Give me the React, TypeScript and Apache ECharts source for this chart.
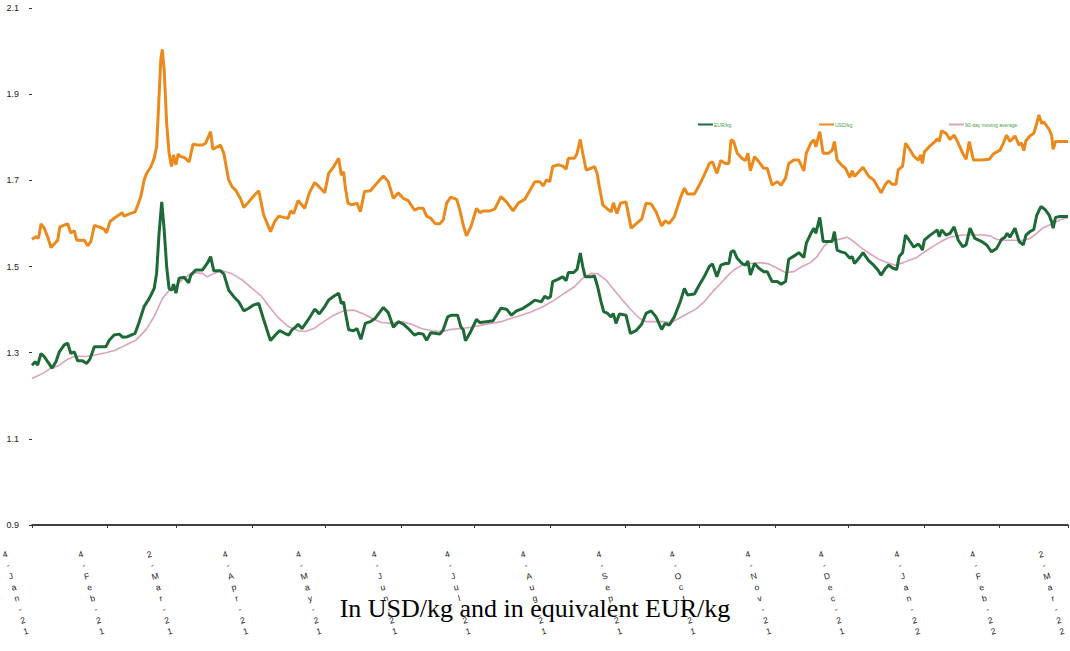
import { useEffect, useRef } from "react";
import * as echarts from "echarts";

// x values are days counted from 4-Jan-2021
const tickDays = [0, 31, 59, 90, 120, 151, 181, 212, 243, 273, 304, 334, 365, 396, 424];
const tickLabels = [
  "4-Jan-21", "4-Feb-21", "2-Mar-21", "4-Apr-21", "4-May-21", "4-Jun-21", "4-Jul-21",
  "4-Aug-21", "4-Sep-21", "4-Oct-21", "4-Nov-21", "4-Dec-21", "4-Jan-22", "4-Feb-22", "2-Mar-22",
];
const yTicks = [0.9, 1.1, 1.3, 1.5, 1.7, 1.9, 2.1];
const seriesNames = ["EUR/kg", "USD/kg", "90-day moving average"];
const chartTitle = "In USD/kg and in equivalent EUR/kg";

const usdKg: [number, number][] = [
  [0,1.563],[1.6,1.569],[2.7,1.566],[3.7,1.599],[5,1.589],[6.4,1.569],[7.8,1.544],[9.1,1.552],[10.5,1.561],[11.4,1.592],
  [13.2,1.596],[14.6,1.599],[15.9,1.578],[17.3,1.583],[18.3,1.561],[20,1.561],[21.4,1.561],[22.8,1.548],[24.1,1.558],[25.5,1.595],
  [27.5,1.592],[29.6,1.586],[30.5,1.578],[31.9,1.604],[33.6,1.612],[35.7,1.62],[36.8,1.625],[37.7,1.617],[39.8,1.622],[42.2,1.627],
  [43.6,1.647],[44.6,1.664],[45.9,1.701],[46.9,1.716],[48.7,1.732],[50,1.751],[51,1.778],[51.8,1.871],[52.7,1.979],[53.3,2.004],
  [54.1,1.956],[55.1,1.833],[56.1,1.763],[57.1,1.732],[57.9,1.759],[58.9,1.736],[59.8,1.761],[60.9,1.755],[62.3,1.753],[64.3,1.743],
  [65.9,1.784],[67.7,1.782],[69.8,1.782],[71,1.786],[73.1,1.813],[74,1.772],[77.1,1.782],[78.5,1.763],[80.5,1.701],[81.9,1.685],
  [83.5,1.676],[85.3,1.658],[86.7,1.637],[88.7,1.65],[90.8,1.664],[92.8,1.676],[94.8,1.62],[97.6,1.581],[99.3,1.604],[101,1.617],
  [103,1.614],[104.8,1.612],[105.8,1.629],[107.1,1.623],[108.9,1.653],[111.6,1.635],[113.5,1.671],[115.7,1.695],[118,1.682],[119.8,1.671],
  [121.4,1.716],[123.5,1.732],[125.5,1.751],[126.6,1.712],[127.5,1.72],[128.2,1.685],[129.3,1.647],[130.9,1.643],[133,1.647],[134.4,1.627],
  [136.1,1.674],[138.5,1.676],[140.5,1.689],[143.8,1.71],[145.8,1.697],[147.9,1.658],[149.9,1.671],[152,1.658],[154,1.653],[156.5,1.631],
  [158.1,1.635],[160.1,1.635],[161.5,1.617],[163.2,1.612],[164.9,1.6],[166.9,1.599],[168.3,1.608],[169.7,1.647],[171.4,1.661],[173.8,1.656],
  [175.1,1.631],[176.5,1.596],[177.8,1.571],[179.6,1.592],[181.9,1.635],[183.3,1.625],[184.7,1.629],[187.4,1.629],[189.4,1.633],[191.9,1.662],
  [194.2,1.65],[196.9,1.629],[199,1.647],[201.7,1.656],[203.7,1.676],[205.8,1.697],[207.8,1.697],[209.2,1.687],[210.5,1.701],[211.9,1.697],
  [213.1,1.732],[215.2,1.736],[217.2,1.733],[218.6,1.726],[219.5,1.751],[222,1.751],[223.1,1.763],[224.4,1.795],[225.4,1.763],[226.8,1.724],
  [228.8,1.728],[230.2,1.732],[231.3,1.716],[232.2,1.685],[233.6,1.643],[235.6,1.633],[237,1.627],[237.9,1.648],[239.4,1.623],[240.8,1.647],
  [243.1,1.65],[245.2,1.589],[247.2,1.599],[249.5,1.61],[251.3,1.647],[253.4,1.645],[255.4,1.627],[257.7,1.594],[259.1,1.606],[260.8,1.6],
  [262.9,1.616],[265.3,1.658],[267,1.682],[268.3,1.668],[271.1,1.668],[273.1,1.689],[275.1,1.712],[277.2,1.739],[278.5,1.743],[280.3,1.716],
  [281.9,1.746],[283.8,1.739],[285.2,1.739],[286.1,1.794],[287.2,1.79],[288.6,1.763],[290.6,1.751],[292,1.746],[293,1.763],[294,1.722],
  [295.7,1.755],[297.5,1.743],[299.5,1.728],[300.9,1.728],[302.9,1.689],[305,1.697],[306.6,1.689],[308.4,1.705],[309.7,1.739],[311.8,1.747],
  [313.8,1.747],[315.9,1.722],[316.9,1.763],[318.8,1.787],[320,1.794],[320.8,1.778],[322.4,1.813],[323.8,1.763],[326.1,1.763],[327.5,1.77],
  [328.4,1.79],[329.5,1.747],[331.2,1.736],[332.9,1.728],[334.7,1.707],[335.7,1.722],[336.6,1.709],[338.4,1.72],[340.1,1.73],[342.5,1.709],
  [344.5,1.701],[345.9,1.687],[347.5,1.671],[349.3,1.691],[350.6,1.699],[352,1.691],[353.6,1.691],[354.5,1.724],[356.3,1.733],[357.5,1.786],
  [359,1.774],[360.9,1.756],[362.7,1.747],[363.7,1.759],[364.4,1.739],[365.2,1.766],[367.2,1.778],[369.6,1.79],[370.5,1.797],[371.3,1.79],
  [372.3,1.815],[374.1,1.809],[375.7,1.795],[377.4,1.805],[379.1,1.786],[380.9,1.763],[382.3,1.749],[383.6,1.79],[385.3,1.747],[388.7,1.747],
  [391.8,1.749],[393.4,1.761],[396.2,1.77],[397.5,1.786],[398.9,1.805],[400.2,1.79],[402.3,1.803],[404,1.782],[405,1.787],[405.9,1.769],
  [406.8,1.792],[408.4,1.803],[410,1.809],[411.2,1.832],[412.1,1.852],[413.2,1.832],[414.1,1.836],[416.3,1.818],[417.3,1.805],[417.9,1.772],
  [418.9,1.79],[420.7,1.79],[424,1.79],
];

const eurKg: [number, number][] = [
  [0,1.271],[1.3,1.279],[2.3,1.271],[3.7,1.298],[5,1.291],[6.4,1.279],[8.2,1.264],[9.8,1.279],[11.2,1.302],[13.2,1.318],
  [14.6,1.322],[15.9,1.298],[17.3,1.302],[18.7,1.281],[20.7,1.281],[22.4,1.275],[23.7,1.285],[25.5,1.314],[28.2,1.314],[30.3,1.314],
  [31.6,1.329],[33.6,1.341],[35.7,1.343],[37.1,1.336],[39.1,1.337],[42.2,1.345],[43.9,1.372],[45.9,1.407],[48,1.426],[50,1.449],
  [51,1.484],[52,1.577],[53.1,1.65],[54.1,1.585],[55.1,1.5],[56.1,1.449],[57.2,1.445],[57.9,1.459],[58.9,1.438],[59.6,1.457],
  [60.2,1.473],[62.3,1.475],[64.1,1.462],[65,1.48],[67,1.492],[69.8,1.492],[71.7,1.507],[73.1,1.523],[74.4,1.49],[77.1,1.49],
  [78.5,1.483],[80.5,1.445],[82.6,1.43],[84.6,1.418],[86.7,1.397],[88.7,1.403],[90.8,1.411],[92.8,1.414],[94.8,1.377],[97.6,1.328],
  [99.6,1.341],[101.3,1.351],[103.4,1.345],[105.1,1.341],[106.4,1.353],[108,1.36],[108.9,1.366],[110.5,1.356],[112.5,1.372],[113.9,1.384],
  [115.7,1.401],[117.6,1.39],[119.8,1.407],[121.4,1.422],[123.5,1.431],[125.5,1.438],[126.6,1.414],[127.5,1.418],[128.2,1.395],[129.6,1.353],
  [131.6,1.351],[133,1.356],[134.6,1.331],[136.4,1.368],[138.5,1.372],[140.5,1.38],[143.8,1.405],[145.8,1.393],[147.9,1.359],[149.9,1.372],
  [152,1.366],[154,1.356],[156.5,1.341],[158.1,1.345],[160.1,1.343],[161.5,1.329],[163.2,1.346],[164.9,1.345],[166.9,1.343],[168.3,1.353],
  [170.1,1.383],[171.7,1.387],[174.2,1.387],[175.5,1.36],[176.5,1.353],[177.4,1.328],[179.2,1.345],[181.9,1.377],[183.3,1.37],[186,1.372],
  [188.7,1.374],[191.9,1.403],[194.2,1.401],[196.2,1.387],[198.3,1.397],[201,1.403],[203.7,1.413],[205.8,1.422],[208.5,1.418],[209.8,1.431],
  [211.2,1.426],[212.2,1.43],[213.1,1.465],[215.2,1.47],[217.2,1.476],[218.6,1.467],[219.5,1.486],[221.7,1.486],[223.1,1.494],[224.4,1.531],
  [225.4,1.5],[226.4,1.476],[228.8,1.476],[230.2,1.478],[231.5,1.453],[232.9,1.418],[234,1.395],[235.6,1.391],[237,1.383],[237.9,1.391],
  [239,1.368],[240.4,1.39],[243.1,1.387],[244.9,1.345],[247.2,1.351],[249.5,1.366],[251.3,1.391],[253.4,1.397],[255.4,1.383],[257.7,1.354],
  [259.1,1.368],[260.8,1.364],[262.9,1.383],[265.3,1.418],[267,1.449],[268.3,1.434],[271.1,1.436],[273.1,1.457],[275.1,1.476],[277.2,1.5],
  [278.5,1.506],[280.3,1.476],[281.9,1.503],[283.8,1.507],[285.2,1.507],[286.1,1.534],[287.2,1.537],[288.6,1.519],[290.6,1.507],[292,1.503],
  [293,1.513],[294,1.48],[295.7,1.507],[297.5,1.496],[299.5,1.488],[300.9,1.488],[302.9,1.465],[305,1.465],[306.6,1.459],[308.4,1.465],
  [309.7,1.517],[311.8,1.524],[313.8,1.532],[315.9,1.521],[316.9,1.554],[318.8,1.577],[320,1.589],[320.8,1.577],[322.4,1.614],[323.8,1.558],
  [326.1,1.558],[327.5,1.558],[328.4,1.581],[329.5,1.538],[331.2,1.534],[332.9,1.531],[334.7,1.519],[335.7,1.523],[336.6,1.507],[338.4,1.519],
  [340.1,1.532],[342.5,1.513],[344.5,1.503],[346.2,1.492],[347.5,1.48],[349.3,1.496],[350.6,1.503],[352.4,1.496],[353.9,1.493],[354.9,1.523],
  [356.3,1.532],[357.5,1.573],[359,1.561],[360.9,1.545],[362.7,1.552],[363.7,1.546],[364.4,1.538],[365.2,1.561],[367.2,1.571],[369.6,1.581],
  [370.5,1.585],[371.3,1.569],[372.3,1.585],[374.1,1.573],[375.7,1.577],[377.4,1.592],[379.1,1.561],[380.9,1.546],[382.3,1.55],[383.9,1.589],
  [385.9,1.565],[388.7,1.558],[390.7,1.55],[392.7,1.534],[394.8,1.542],[396.8,1.563],[398.2,1.568],[399.1,1.577],[400.2,1.568],[402.3,1.589],
  [404,1.558],[405.7,1.55],[406.8,1.573],[408.4,1.581],[410,1.586],[411.2,1.619],[412.9,1.639],[414.5,1.633],[416.3,1.619],[417.3,1.604],
  [417.9,1.589],[418.9,1.614],[420.7,1.616],[424,1.616],
];

const movingAvg90: [number, number][] = [
  [0,1.24],[4.4,1.252],[7.8,1.264],[11.2,1.271],[14.6,1.285],[18,1.292],[22.1,1.291],[26.2,1.295],[30.3,1.3],[34.3,1.306],
  [38.4,1.318],[42.5,1.329],[46.6,1.353],[50,1.384],[53.4,1.426],[56.1,1.444],[58.9,1.457],[62.3,1.473],[65.7,1.486],[69.8,1.484],
  [71.7,1.476],[74.4,1.484],[77.8,1.49],[81.9,1.483],[86,1.469],[90.1,1.449],[94.1,1.43],[97.6,1.403],[101,1.38],[105.1,1.36],
  [109.1,1.351],[111.9,1.349],[115.3,1.356],[119.4,1.372],[123.5,1.387],[127.5,1.397],[131.6,1.399],[135.7,1.39],[140.5,1.376],[143.1,1.37],
  [147.2,1.368],[151.3,1.372],[155.3,1.366],[159.4,1.356],[163.5,1.351],[167.6,1.349],[171.7,1.354],[175.8,1.356],[179.9,1.359],[184,1.364],
  [188,1.368],[192.1,1.372],[196.2,1.38],[200.3,1.387],[204.4,1.395],[208.5,1.405],[213.8,1.422],[217.9,1.438],[222,1.453],[225.4,1.473],
  [228.8,1.484],[231.5,1.483],[234.9,1.469],[238.3,1.445],[241.7,1.422],[245.2,1.399],[248.6,1.38],[251.3,1.372],[254.7,1.372],[258.1,1.372],
  [261.5,1.37],[264.9,1.38],[268.3,1.391],[271.7,1.401],[275.1,1.418],[278.5,1.441],[281.9,1.461],[283.8,1.473],[287.2,1.492],[290.6,1.503],
  [294,1.507],[298.1,1.509],[301.6,1.506],[305,1.496],[308.4,1.486],[311.8,1.488],[315.2,1.5],[318.6,1.509],[321.3,1.523],[324,1.546],
  [326.8,1.561],[330.2,1.563],[333.6,1.568],[336.3,1.558],[339.7,1.542],[343.1,1.529],[346.5,1.517],[349.9,1.509],[353.3,1.503],[356.6,1.509],
  [359.3,1.515],[362.1,1.521],[364.8,1.532],[367.5,1.542],[370.3,1.552],[373,1.561],[375.7,1.568],[378.5,1.571],[381.2,1.573],[385.3,1.573],
  [389.4,1.573],[392.1,1.571],[394.8,1.563],[397.5,1.561],[401.6,1.561],[405.7,1.561],[408.4,1.565],[411.2,1.577],[413.8,1.59],[417.3,1.598],
  [420.7,1.608],[424,1.614],
];

const colors = { eur: "#1d6a36", usd: "#ea8a1c", ma: "#dca3bb" };

const labelFont = "'Liberation Sans Narrow', 'Liberation Sans', Arial, sans-serif";

export default function App() {
  const ref = useRef<HTMLDivElement>(null);

  useEffect(() => {
    document.body.style.margin = "0";
    const chart = echarts.init(ref.current as HTMLDivElement, null, { renderer: "svg" });
    const legendBase = {
      orient: "horizontal",
      top: 117,
      itemWidth: 15,
      itemHeight: 2,
      icon: "rect",
      selectedMode: false,
      textStyle: { fontSize: 5, color: "#3fa14a", fontFamily: "Liberation Sans, Arial, sans-serif", padding: [0, 0, 0, -4] },
    };
    chart.setOption({
      animation: false,
      backgroundColor: "#ffffff",
      title: {
        text: chartTitle,
        left: "center",
        top: 590,
        textStyle: { fontFamily: "Liberation Serif, 'Times New Roman', serif", fontSize: 26, fontWeight: "normal", color: "#000" },
      },
      legend: [
        { ...legendBase, left: 693, data: [seriesNames[0]] },
        { ...legendBase, left: 814, data: [seriesNames[1]] },
        { ...legendBase, left: 944, data: [seriesNames[2]] },
      ],
      grid: { left: 32, right: 2, top: 8, bottom: 126, containLabel: false, outerBoundsMode: "none" },
      xAxis: {
        type: "value",
        min: 0,
        max: 424,
        splitLine: { show: false },
        axisLine: { show: true, lineStyle: { color: "#000", width: 1.5 } },
        axisTick: { show: true, customValues: tickDays, length: 3, lineStyle: { color: "#333" } },
        axisLabel: {
          customValues: tickDays,
          showMinLabel: true,
          showMaxLabel: true,
          hideOverlap: false,
          formatter: (v: number) => {
            const i = tickDays.indexOf(Math.round(v));
            return i >= 0 ? tickLabels[i].split("").map((c) => `{c|${c}}`).join("\n") : "";
          },
          rotate: 15,
          align: "right",
          verticalAlign: "top",
          padding: [0, 26, 0, 0],
          margin: 16,
          fontSize: 8.5,
          lineHeight: 11.4,
          color: "#1a1a1a",
          fontFamily: labelFont,
          rich: {
            c: {
              width: 7,
              align: "center",
              fontSize: 8.5,
              lineHeight: 11.4,
              color: "#1a1a1a",
              fontFamily: labelFont,
            },
          },
        },
      },
      yAxis: {
        type: "value",
        min: 0.9,
        max: 2.1,
        splitLine: { show: false },
        axisLine: { show: false },
        axisTick: { show: true, customValues: yTicks, length: 3, lineStyle: { color: "#333" } },
        axisLabel: {
          customValues: yTicks,
          showMinLabel: true,
          showMaxLabel: true,
          formatter: (v: number) => v.toFixed(1),
          fontSize: 9,
          margin: 13,
          color: "#222",
          fontFamily: "Liberation Sans, Arial, sans-serif",
        },
      },
      series: [
        {
          name: seriesNames[1],
          type: "line",
          data: usdKg,
          showSymbol: false,
          symbol: "none",
          color: colors.usd,
          lineStyle: { width: 3, color: colors.usd },
        },
        {
          name: seriesNames[2],
          type: "line",
          data: movingAvg90,
          showSymbol: false,
          symbol: "none",
          color: colors.ma,
          lineStyle: { width: 1.6, color: colors.ma },
        },
        {
          name: seriesNames[0],
          type: "line",
          data: eurKg,
          showSymbol: false,
          symbol: "none",
          color: colors.eur,
          lineStyle: { width: 3, color: colors.eur },
        },
      ],
    });
    return () => chart.dispose();
  }, []);

  return <div ref={ref} style={{ width: 1070, height: 651 }} />;
}
